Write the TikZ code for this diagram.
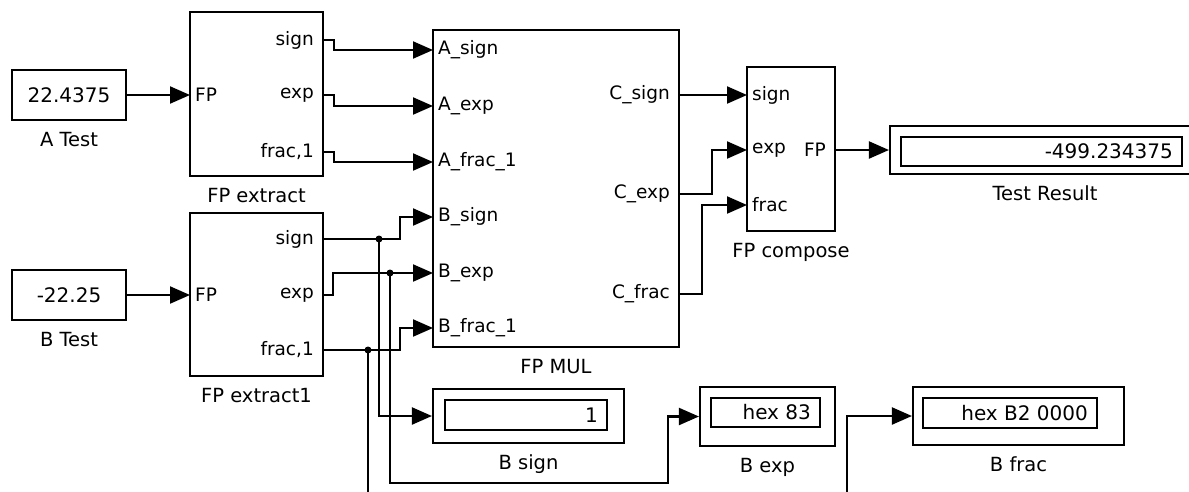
\documentclass[tikz,border=0pt]{standalone}
\usepackage{fontspec}
\setmainfont{DejaVu Sans}
\usepackage{tikz}
\usetikzlibrary{arrows.meta,positioning,fit}

\begin{document}
\begin{tikzpicture}[
    x=1pt,y=-1pt,
    block/.style={draw,line width=2.1pt,inner sep=0pt},
    inport/.style={anchor=west,inner xsep=5pt,inner ysep=0pt,font=\fontsize{18.5}{22}\selectfont},
    outport/.style={anchor=east,inner xsep=9pt,inner ysep=0pt,font=\fontsize{18.5}{22}\selectfont},
    caption/.style={inner sep=0pt,text height=14pt,text depth=4pt,font=\fontsize{19.5}{23}\selectfont},
    value/.style={inner sep=0pt,font=\fontsize{20}{24}\selectfont},
    arrow/.style={-{Triangle[length=20pt,width=17pt]},line width=2.1pt},
    dot/.style={circle,fill,inner sep=0pt,minimum size=7pt}
  ]
    \useasboundingbox (0,0) rectangle (1189,491);
    \clip (0,0) rectangle (1189,491);

    % sources
    \node[block,fit={(12,70) (126,120)}] (atest) {};
    \node[value] at (atest.center) {22.4375};
    \node[caption,below=11pt of atest] {A Test};
    \node[block,fit={(12,270) (126,320)}] (btest) {};
    \node[value] at (btest.center) {-22.25};
    \node[caption,below=11pt of btest] {B Test};

    % FP extract blocks
    \node[block,fit={(190,12) (323,176)}] (xa) {};
    \node[caption,below=11pt of xa] {FP extract};
    \node[inport] (xaFP) at (190,95) {FP};
    \node[outport] (xaSign) at (323,40) {sign};
    \node[outport] (xaExp) at (323,95) {exp};
    \node[outport] (xaFrac) at (323,152) {frac,1};

    \node[block,fit={(190,213) (323,376)}] (xb) {};
    \node[caption,below=11pt of xb] {FP extract1};
    \node[inport] (xbFP) at (190,295) {FP};
    \node[outport] (xbSign) at (323,239) {sign};
    \node[outport] (xbExp) at (323,295) {exp};
    \node[outport] (xbFrac) at (323,350) {frac,1};

    % FP MUL
    \node[block,fit={(433,30) (679,347)}] (mul) {};
    \node[caption,below=11pt of mul] {FP MUL};
    \node[inport] (mAsign) at (433,50) {A\_sign};
    \node[inport] (mAexp) at (433,106) {A\_exp};
    \node[inport] (mAfrac) at (433,162) {A\_frac\_1};
    \node[inport] (mBsign) at (433,217) {B\_sign};
    \node[inport] (mBexp) at (433,273) {B\_exp};
    \node[inport] (mBfrac) at (433,328) {B\_frac\_1};
    \node[outport] (mCsign) at (679,95) {C\_sign};
    \node[outport] (mCexp) at (679,194) {C\_exp};
    \node[outport] (mCfrac) at (679,294) {C\_frac};

    % FP compose
    \node[block,fit={(747,67) (835,231)}] (comp) {};
    \node[caption,below=11pt of comp] {FP compose};
    \node[inport] (cSign) at (747,95) {sign};
    \node[inport] (cExp) at (747,150) {exp};
    \node[inport] (cFrac) at (747,205) {frac};
    \node[outport] (cFP) at (835,150) {FP};

    % displays
    \node[block,fit={(890,126) (1200,174)}] (result) {};
    \node[block,fit={(901,137) (1182,166)}] (resultIn) {};
    \node[value,left=10pt of resultIn.east] {-499.234375};
    \node[caption,below=11pt of result] {Test Result};

    \node[block,fit={(433,389) (624,443)}] (bsign) {};
    \node[block,fit={(445,400) (607,430)}] (bsignIn) {};
    \node[value,left=10pt of bsignIn.east] {1};
    \node[caption,below=11pt of bsign] {B sign};

    \node[block,fit={(700,387) (835,446)}] (bexp) {};
    \node[block,fit={(711,398) (820,427)}] (bexpIn) {};
    \node[value,left=10pt of bexpIn.east] {hex 83};
    \node[caption,below=11pt of bexp] {B exp};

    \node[block,fit={(913,387) (1124,445)}] (bfrac) {};
    \node[block,fit={(923,398) (1097,428)}] (bfracIn) {};
    \node[value,left=10pt of bfracIn.east] {hex B2 0000};
    \node[caption,below=11pt of bfrac] {B frac};

    % junctions
    \node[dot] (jSign) at (379,239) {};
    \node[dot] (jExp) at (390,273) {};
    \node[dot] (jFrac) at (368,350) {};
    \coordinate (bendExp) at (668,483);
    \coordinate (bendFrac) at (847,530);

    % wires
    \draw[arrow] (atest.east) -- (xaFP.west);
    \draw[arrow] (btest.east) -- (xbFP.west);
    \draw[arrow] (xaSign.east) -- ++(11,0) |- (mAsign.west);
    \draw[arrow] (xaExp.east) -- ++(11,0) |- (mAexp.west);
    \draw[arrow] (xaFrac.east) -- ++(11,0) |- (mAfrac.west);
    \draw[arrow] (xbSign.east) -- ++(77,0) |- (mBsign.west);
    \draw[arrow] (xbExp.east) -- ++(10,0) |- (mBexp.west);
    \draw[arrow] (xbFrac.east) -- ++(77,0) |- (mBfrac.west);
    \draw[arrow] (jSign.center) |- (bsign.west);
    \draw[arrow] (jExp.center) |- (bendExp) |- (bexp.west);
    \draw[arrow] (jFrac.center) |- (bendFrac) |- (bfrac.west);
    \draw[arrow] (mCsign.east) -- (cSign.west);
    \draw[arrow] (mCexp.east) -- ++(33,0) |- (cExp.west);
    \draw[arrow] (mCfrac.east) -- ++(23,0) |- (cFrac.west);
    \draw[arrow] (cFP.east) -- (result.west);
  \end{tikzpicture}
\end{document}
